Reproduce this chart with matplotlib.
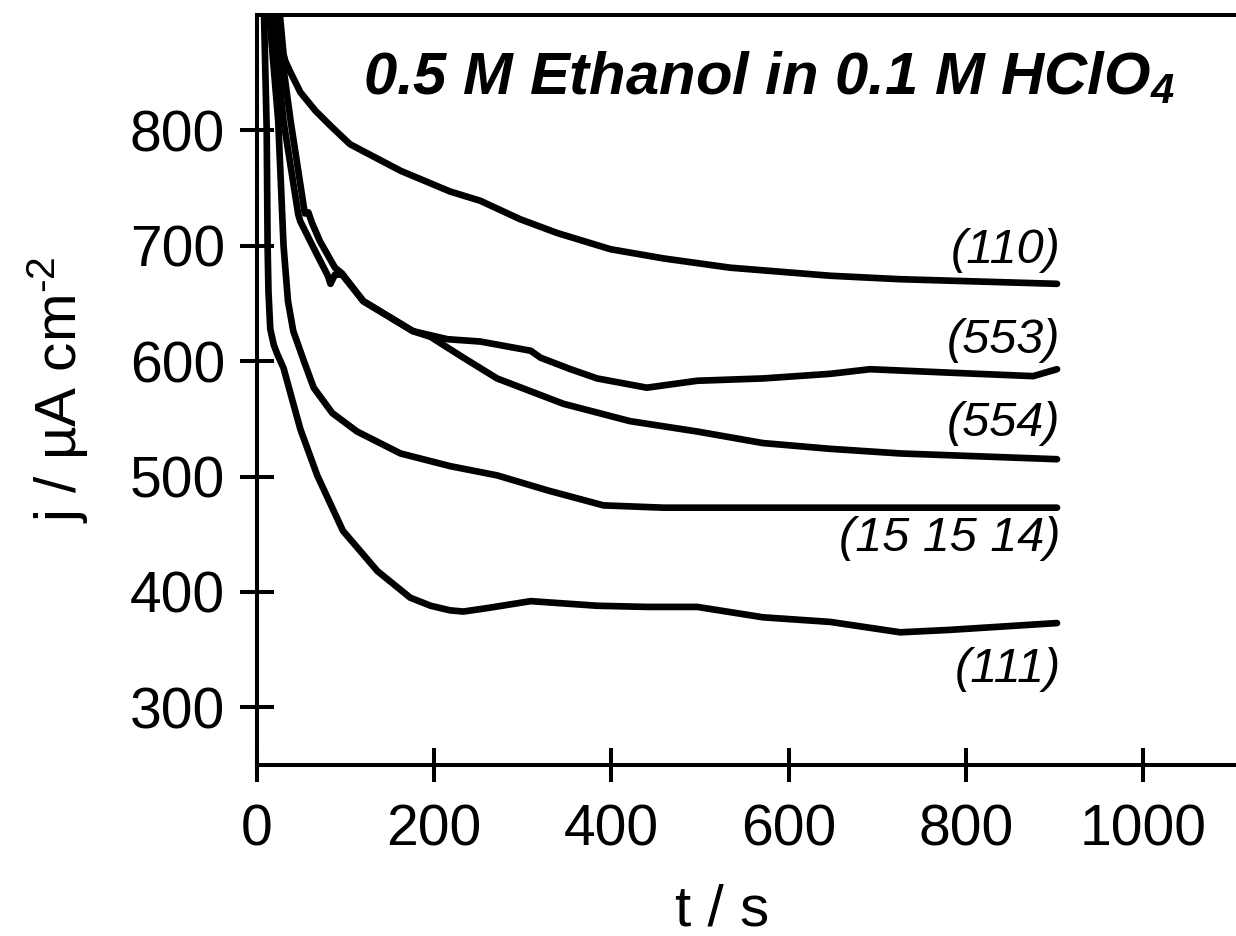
import matplotlib
matplotlib.use("Agg")
import matplotlib.pyplot as plt

plt.rcParams['font.family'] = ['Liberation Sans', 'DejaVu Sans']
plt.rcParams['mathtext.fontset'] = 'custom'
plt.rcParams['mathtext.rm'] = 'Liberation Sans'
plt.rcParams['mathtext.it'] = 'Liberation Sans:italic'
plt.rcParams['mathtext.bf'] = 'Liberation Sans:bold:italic'

# chronoamperometry curves, t in s, j in uA cm^-2
t_110 = [24, 26, 30, 32, 38, 49, 66, 83, 105, 162, 218, 252, 297, 339, 399, 459, 534, 647, 726, 903]
j_110 = [1000, 899, 866, 860, 850, 833, 817, 804, 788, 765, 747, 739, 723, 711, 697, 689, 681, 674, 671, 667]

t_553 = [19, 22, 38, 54, 58, 62, 71, 88, 96, 120, 176, 215, 252, 309, 320, 354,
         384, 440, 497, 571, 647, 692, 782, 876, 903]
j_553 = [1000, 899, 808, 728, 729, 720, 704, 681, 676, 652, 626, 619, 617, 609, 603, 593,
         585, 577, 583, 585, 589, 593, 590, 587, 593]

t_554 = [16, 17.5, 30, 46.6, 49, 66, 80, 83, 88, 96, 120, 176, 196, 233, 271, 346,
         421, 497, 571, 647, 726, 903]
j_554 = [1000, 899, 808, 727, 721, 695, 674, 667, 675, 675, 652, 626, 621, 603, 585, 563,
         548, 539, 529, 524, 520, 515]

t_151514 = [6, 14, 24, 30, 35, 41, 53, 64, 85, 113, 162, 218, 271, 328, 391, 459, 647, 903]
j_151514 = [1000, 899, 808, 700, 652, 626, 600, 577, 555, 539, 520, 509, 501, 488, 475, 473, 473, 473]

t_111 = [4, 8, 11, 12, 13, 15, 19, 23, 30, 40, 49, 68, 97, 136, 173, 196, 218, 233, 260,
         309, 384, 440, 497, 571, 647, 726, 780, 903]
j_111 = [1000, 899, 800, 700, 660, 628, 614, 606, 594, 566, 541, 501, 453, 418, 395, 388, 384, 383, 386,
         392, 388, 387, 387, 378, 374, 365, 367, 373]

labels = ['(110)', '(553)', '(554)', '(15 15 14)', '(111)']
label_j = [696, 618, 546, 446, 333]

fig = plt.figure(figsize=(12.36, 9.36), dpi=100)
ax = fig.add_axes([0.2079, 0.1827, 0.7921, 0.8013])

for t, j in [(t_110, j_110), (t_553, j_553), (t_554, j_554), (t_151514, j_151514), (t_111, j_111)]:
    ax.plot(t, j, color='black', lw=4.8, solid_capstyle='round', solid_joinstyle='round')

for lab, jy in zip(labels, label_j):
    ax.text(907, jy, lab, ha='right', va='center', fontsize=35, fontstyle='italic')

ax.text(578, 845, r'0.5 M Ethanol in 0.1 M HClO$_{\mathbf{4}}$', ha='center', va='center',
        fontsize=43, fontweight='bold', fontstyle='italic')

ax.set_xlim(0, 1105)
ax.set_ylim(250, 900)
ax.set_xticks([0, 200, 400, 600, 800, 1000])
ax.set_yticks([300, 400, 500, 600, 700, 800])

ax.spines['right'].set_visible(False)
for s in ['left', 'bottom', 'top']:
    ax.spines[s].set_linewidth(2.9)
ax.tick_params(direction='inout', length=24, width=2.9, labelsize=41, top=False, right=False)
ax.tick_params(axis='x', pad=16)
ax.tick_params(axis='y', pad=11)

ax.set_xlabel('t / s', fontsize=42)
ax.set_ylabel(r'j / µA cm$^{\text{-2}}$', fontsize=42)
ax.xaxis.set_label_coords(0.475, -0.158)
ax.yaxis.set_label_coords(-0.17, 0.5)

fig.savefig('out.png', dpi=100)
